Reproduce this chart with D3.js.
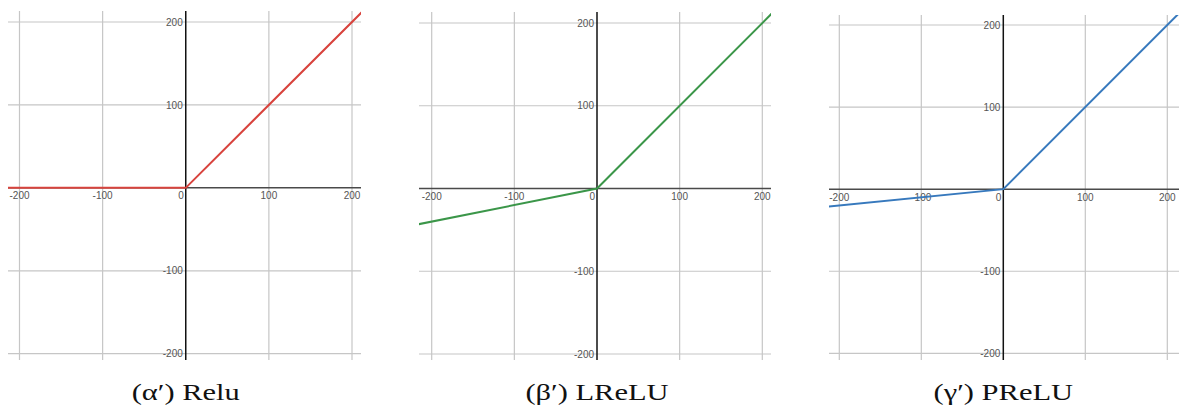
<!DOCTYPE html>
<html>
<head>
<meta charset="utf-8">
<script src="https://cdn.jsdelivr.net/npm/d3@7"></script>
<style>
  body { margin: 0; background: #fff; }
  svg { display: block; }
</style>
</head>
<body>
<svg id="chart" width="1179" height="408"></svg>
<script>
// Shared tick values for both axes of every panel
const tickValues = [-200, -100, 0, 100, 200];

// Activation functions sampled at their break points
const xSamples = [-220, 0, 220];
const reluValues = [0, 0, 220];
const lreluValues = [-44, 0, 220];
const preluValues = [-22, 0, 220];

const captions = ["(α′) Relu", "(β′) LReLU", "(γ′) PReLU"];
const seriesValues = [reluValues, lreluValues, preluValues];
const lineColors = ["#d8433d", "#3b9649", "#3779bd"];

// Pixel placement of each panel: where -200/200 fall on each axis and the plot box
const layout = [
  { x0: 19.5, x1: 352, y0: 353.7, y1: 22, left: 8, right: 361, top: 11, bottom: 360 },
  { x0: 431.7, x1: 762.3, y0: 354, y1: 23, left: 419, right: 771, top: 12, bottom: 360 },
  { x0: 839.3, x1: 1167.3, y0: 353.3, y1: 25, left: 829, right: 1179, top: 15, bottom: 360 }
];

const svg = d3.select("#chart");

layout.forEach((p, i) => {
  const x = d3.scaleLinear().domain([-200, 200]).range([p.x0, p.x1]);
  const y = d3.scaleLinear().domain([-200, 200]).range([p.y0, p.y1]);
  const g = svg.append("g");

  const nonZero = tickValues.filter(t => t !== 0);

  // grid
  g.selectAll("line.vgrid").data(nonZero).join("line")
    .attr("class", "vgrid")
    .attr("x1", d => x(d)).attr("x2", d => x(d))
    .attr("y1", p.top).attr("y2", p.bottom)
    .attr("stroke", "#c6c6c6").attr("stroke-width", 1.2);
  g.selectAll("line.hgrid").data(nonZero).join("line")
    .attr("class", "hgrid")
    .attr("x1", p.left).attr("x2", p.right)
    .attr("y1", d => y(d)).attr("y2", d => y(d))
    .attr("stroke", "#c6c6c6").attr("stroke-width", 1.2);

  // axes through the origin
  g.append("line")
    .attr("x1", p.left).attr("x2", p.right)
    .attr("y1", y(0)).attr("y2", y(0))
    .attr("stroke", "#4a4a4a").attr("stroke-width", 1.5);
  g.append("line")
    .attr("x1", x(0)).attr("x2", x(0))
    .attr("y1", p.top).attr("y2", p.bottom)
    .attr("stroke", "#111").attr("stroke-width", 1.5);

  // tick labels
  const font = "'Liberation Sans', Arial, sans-serif";
  g.selectAll("text.xlab").data(tickValues).join("text")
    .attr("class", "xlab")
    .attr("x", d => d === 0 ? x(0) - 2 : x(d))
    .attr("y", y(0) + 11.5)
    .attr("text-anchor", d => d === 0 ? "end" : "middle")
    .attr("font-family", font).attr("font-size", 10).attr("fill", "#555")
    .text(d => d);
  g.selectAll("text.ylab").data(nonZero).join("text")
    .attr("class", "ylab")
    .attr("x", x(0) - 3)
    .attr("y", d => y(d) + 3.6)
    .attr("text-anchor", "end")
    .attr("font-family", font).attr("font-size", 10).attr("fill", "#555")
    .text(d => d);

  // function curve, clipped to the plot box
  const clipId = "clip" + i;
  svg.append("clipPath").attr("id", clipId).append("rect")
    .attr("x", p.left).attr("y", p.top)
    .attr("width", p.right - p.left).attr("height", p.bottom - p.top);
  const pts = xSamples.map((xv, k) => [xv, seriesValues[i][k]]);
  g.append("path")
    .datum(pts)
    .attr("clip-path", `url(#${clipId})`)
    .attr("d", d3.line().x(d => x(d[0])).y(d => y(d[1])))
    .attr("fill", "none")
    .attr("stroke", lineColors[i])
    .attr("stroke-width", 2);

  // caption
  g.append("text")
    .attr("transform", `translate(${x(0)},400) scale(1.27,1)`)
    .attr("text-anchor", "middle")
    .attr("font-family", "'Liberation Serif', 'Times New Roman', serif")
    .attr("font-size", 24)
    .attr("fill", "#111")
    .text(captions[i]);
});
</script>
</body>
</html>
